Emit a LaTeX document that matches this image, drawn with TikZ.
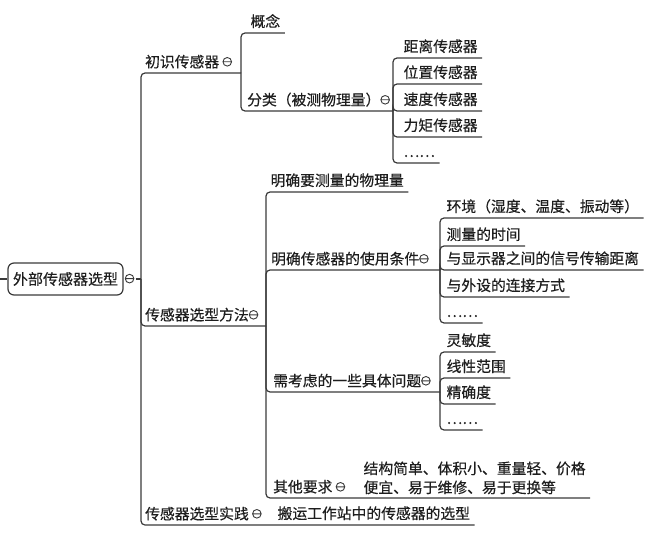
\documentclass[tikz,border=0pt]{standalone}
\usepackage{fontspec}
\setmainfont{Noto Sans CJK SC}[FakeBold=0.4]
\usetikzlibrary{positioning}
\definecolor{cline}{HTML}{3A3A3A}
\definecolor{ctext}{HTML}{1E1E1E}
\newcommand{\fold}{\tikz[baseline=-5.5pt, line width=0.9pt]{\draw[cline] (0,0) circle (4.3pt) (-4.3pt,0) -- (4.3pt,0);}}
\tikzset{
  every picture/.style={line width=1.2pt},
  lbl/.style={anchor=south west, inner xsep=4pt, inner ysep=0pt, text height=11pt, text depth=5.5pt,
              text=ctext, font=\fontsize{14.8}{19}\selectfont},
  blk/.style={anchor=base west, inner xsep=4pt, inner ysep=0pt, align=left,
              text=ctext, font=\fontsize{14.8}{19}\selectfont},
  edge/.style={draw=cline, rounded corners=4pt},
  rootbox/.style={draw=cline, rounded corners=6pt, inner xsep=5pt, minimum width=115pt, minimum height=32pt,
                  text=ctext, font=\fontsize{15}{18}\selectfont},
}

\begin{document}
\begin{tikzpicture}[x=1pt, y=-1pt]
  \useasboundingbox (0,0) rectangle (658,537);
  % root
  \node[rootbox] (root) at (65.5,279) {外部传感器选型};
  \node[right=0pt of root, inner sep=1pt] (m0) {\fold};
  \coordinate (in) at (0,279);
  \coordinate (j0) at (141,279);
  % level 1
  \node[lbl] (n1) at (141,73) {初识传感器 \fold};
  \node[lbl] (n2) at (141,326) {传感器选型方法\fold};
  \node[lbl] (n3) at (141,525) {传感器选型实践 \fold};
  \coordinate (j1) at (241,73);
  \coordinate (j2) at (266,326);
  \coordinate (j3) at (268,525);
  % 初识传感器
  \node[lbl] (n11) at (246,33) {概念};
  \node[lbl] (n12) at (243,111) {分类（被测物理量）\fold};
  \coordinate (j4) at (393,111);
  \node[lbl] (n121) at (399,58) {距离传感器};
  \node[lbl] (n122) at (399,84) {位置传感器};
  \node[lbl] (n123) at (399,111) {速度传感器};
  \node[lbl] (n124) at (399,137) {力矩传感器};
  \node[lbl] (n125) at (399,163) {……};
  % 传感器选型方法
  \node[lbl] (n21) at (266,192) {明确要测量的物理量};
  \node[lbl] (n22) at (267,270) {明确传感器的使用条件\fold};
  \node[lbl] (n23) at (269,392) {需考虑的一些具体问题\fold};
  \node[lbl] (n24) at (269,498) {其他要求 \fold};
  \coordinate (j5) at (440,270);
  \coordinate (j6) at (440,392);
  \coordinate (j7) at (355,498);
  \node[lbl] (n221) at (442,218) {环境（湿度、温度、振动等）};
  \node[lbl] (n222) at (442,246) {测量的时间};
  \node[lbl] (n223) at (442,270) {与显示器之间的信号传输距离};
  \node[lbl] (n224) at (442,297) {与外设的连接方式};
  \node[lbl] (n225) at (442,323) {……};
  \node[lbl] (n231) at (442,352) {灵敏度};
  \node[lbl] (n232) at (442,378) {线性范围};
  \node[lbl] (n233) at (442,404) {精确度};
  \node[lbl] (n234) at (442,430) {……};
  \node[blk] (n241) at (359,493) {结构简单、体积小、重量轻、价格\\便宜、易于维修、易于更换等};
  % 传感器选型实践
  \node[lbl] (n31) at (273,525) {搬运工作站中的传感器的选型};

  \draw[edge] (in) -- (root);
  \draw[edge] (m0) -- (j0);
  \draw[edge] (j0) |- (j1);
  \draw[edge] (j0) |- (j2);
  \draw[edge] (j0) |- (j3) -- (n31.south east);
  \draw[edge] (j1) |- (n11.south east);
  \draw[edge] (j1) |- (j4);
  \foreach \c in {n121,n122,n123,n124,n125}
    \draw[edge] (j4) |- (\c.south east);
  \draw[edge] (j2) |- (n21.south east);
  \draw[edge] (j2) |- (j5);
  \draw[edge] (j2) |- (j6);
  \draw[edge] (j2) |- (j7) -- (j7 -| n241.east);
  \foreach \c in {n221,n222,n223,n224,n225}
    \draw[edge] (j5) |- (\c.south east);
  \foreach \c in {n231,n232,n233,n234}
    \draw[edge] (j6) |- (\c.south east);
\end{tikzpicture}
\end{document}
